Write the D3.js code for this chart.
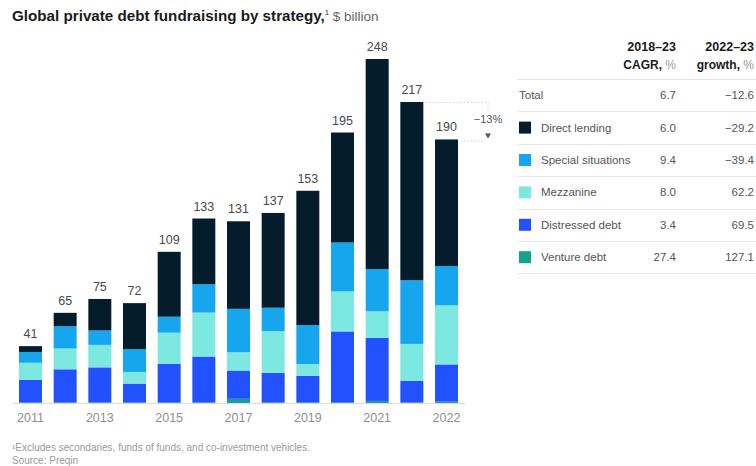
<!DOCTYPE html>
<html>
<head>
<meta charset="utf-8">
<script src="https://cdn.jsdelivr.net/npm/d3@7"></script>
<style>
  html, body { margin: 0; padding: 0; background: #fff; }
  svg { display: block; font-family: "Liberation Sans", Arial, sans-serif; }
</style>
</head>
<body>
<svg id="chart" width="756" height="466"></svg>
<script>
// Fundraising by year, $ billion, stacked bottom to top
const years = ["2011","2012","2013","2014","2015","2016","2017","2018","2019","2020","2021","2022","2023"];
const tickLabels = ["2011","","2013","","2015","","2017","","2019","","2021","","2022"];
const totals = [41, 65, 75, 72, 109, 133, 131, 137, 153, 195, 248, 217, 190];

const ventureDebt      = [0.3, 0.3, 0.4, 0.3, 0.5, 0.5, 3.0, 0.3, 0.6, 0.5, 1.5, 0.45, 1.0];
const distressedDebt   = [16.3, 24.0, 25.3, 13.7, 27.8, 33.0, 20.4, 21.5, 19.1, 51.1, 45.4, 15.65, 26.8];
const mezzanine        = [12.4, 15.0, 16.2, 8.4, 22.4, 31.7, 13.2, 30.0, 8.4, 28.8, 19.2, 26.5, 42.6];
const specialSituations= [7.8, 16.0, 10.4, 16.4, 11.5, 20.4, 31.3, 16.9, 28.1, 35.3, 30.5, 45.9, 28.4];
const directLending    = [4.2, 9.7, 22.7, 33.2, 46.8, 47.4, 63.1, 68.3, 96.8, 79.3, 151.4, 128.5, 91.2];

// Table rows
const strategies = ["Direct lending", "Special situations", "Mezzanine", "Distressed debt", "Venture debt"];
const cagr   = [6.0, 9.4, 8.0, 3.4, 27.4];
const growth = [-29.2, -39.4, 62.2, 69.5, 127.1];
const totalCagr = 6.7;
const totalGrowth = -12.6;

const colors = {
  "Venture debt": "#14a38b",
  "Distressed debt": "#2251ff",
  "Mezzanine": "#7de8e0",
  "Special situations": "#15a6ee",
  "Direct lending": "#051c2c"
};

const svg = d3.select("#chart");
const fmtNum = v => (v < 0 ? "\u2212" : "") + Math.abs(v).toFixed(1);

// Title
const title = svg.append("text").attr("x", 12).attr("y", 21);
title.append("tspan").attr("font-weight", "bold").attr("font-size", 15.2).attr("fill", "#1a1a1a")
  .text("Global private debt fundraising by strategy,");
title.append("tspan").attr("font-size", 7.5).attr("dy", -6).attr("fill", "#1a1a1a").text("1");
title.append("tspan").attr("dy", 6).attr("font-size", 13.5).attr("fill", "#666").text(" $ billion");

// Scales
const x = d3.scaleBand().domain(years).range([19, 458]).paddingInner(0.337).paddingOuter(0);
const y = d3.scaleLinear().domain([0, 248]).range([403, 59]);

const rows = years.map((yr, i) => ({
  year: yr,
  "Venture debt": ventureDebt[i],
  "Distressed debt": distressedDebt[i],
  "Mezzanine": mezzanine[i],
  "Special situations": specialSituations[i],
  "Direct lending": directLending[i]
}));
const keys = ["Venture debt", "Distressed debt", "Mezzanine", "Special situations", "Direct lending"];
const stacked = d3.stack().keys(keys)(rows);

svg.append("g").selectAll("g").data(stacked).join("g")
  .attr("fill", d => colors[d.key])
  .selectAll("rect").data(d => d).join("rect")
  .attr("x", d => x(d.data.year))
  .attr("width", x.bandwidth())
  .attr("y", d => y(d[1]))
  .attr("height", d => y(d[0]) - y(d[1]));

// Baseline
svg.append("line").attr("x1", 12).attr("x2", 465)
  .attr("y1", y(0) + 0.5).attr("y2", y(0) + 0.5)
  .attr("stroke", "#dcdcdc").attr("stroke-width", 1);

// Total labels
svg.append("g").selectAll("text").data(years).join("text")
  .attr("x", d => x(d) + x.bandwidth() / 2)
  .attr("y", (d, i) => y(totals[i]) - 8)
  .attr("text-anchor", "middle").attr("font-size", 12.5).attr("fill", "#4a4a4a")
  .text((d, i) => totals[i]);

// X axis
const xAxis = d3.axisBottom(x).tickSize(0).tickPadding(0)
  .tickFormat((d, i) => tickLabels[i]);
const gx = svg.append("g").attr("transform", `translate(0,${y(0) + 19})`).call(xAxis);
gx.select(".domain").remove();
gx.selectAll("text").attr("font-size", 12.5).attr("fill", "#8f8f8f")
  .attr("font-family", "'Liberation Sans', Arial, sans-serif").attr("dy", "0");

// Change annotation between last two years
const iPrev = years.length - 2, iLast = years.length - 1;
const ann = svg.append("g").attr("stroke", "#d6cccc").attr("stroke-width", 1)
  .attr("stroke-dasharray", "1.5,2").attr("fill", "none");
const axX = 488;
ann.append("path")
  .attr("d", `M${x(years[iPrev]) + x.bandwidth() + 2},${y(totals[iPrev]) + 0.5}H${axX}V${y(totals[iPrev]) + 9}`);
ann.append("path")
  .attr("d", `M${x(years[iLast]) + x.bandwidth() + 6},${y(totals[iLast]) + 1.5}H${axX - 4}`);
svg.append("path")
  .attr("d", `M${axX - 3},${y(totals[iLast]) - 6}L${axX + 3},${y(totals[iLast]) - 6}L${axX},${y(totals[iLast]) - 1}Z`)
  .attr("fill", "#555");
svg.append("text").attr("x", axX).attr("y", (y(totals[iPrev]) + y(totals[iLast])) / 2 + 2)
  .attr("text-anchor", "middle").attr("font-size", 11).attr("fill", "#555")
  .text("\u2212" + Math.abs(Math.round(totalGrowth)) + "%");

// Table
const tbl = svg.append("g");
const tLeft = 517, tRight = 756, col1 = 676, col2 = 754;
const hdr = [
  { x: col1, l1: "2018\u201323", l2: "CAGR, " },
  { x: col2, l1: "2022\u201323", l2: "growth, " }
];
hdr.forEach(h => {
  tbl.append("text").attr("x", h.x).attr("y", 51).attr("text-anchor", "end")
    .attr("font-size", 12.5).attr("font-weight", "bold").attr("fill", "#1a1a1a").text(h.l1);
  const t = tbl.append("text").attr("x", h.x).attr("y", 69).attr("text-anchor", "end")
    .attr("font-size", 12).attr("font-weight", "bold").attr("fill", "#1a1a1a");
  t.append("tspan").text(h.l2);
  t.append("tspan").attr("font-weight", "normal").attr("fill", "#999").text("%");
});

const tableRows = [{ name: "Total", c: totalCagr, g: totalGrowth, swatch: false }]
  .concat(strategies.map((s, i) => ({ name: s, c: cagr[i], g: growth[i], swatch: true })));
const rowTop = 79, rowH = 32.4;

tbl.append("line").attr("x1", tLeft).attr("x2", tRight)
  .attr("y1", rowTop + 0.5).attr("y2", rowTop + 0.5).attr("stroke", "#e3e3e3");

tableRows.forEach((r, i) => {
  const cy = rowTop + rowH * i + rowH / 2;
  const lineY = Math.round(rowTop + rowH * (i + 1)) + 0.5;
  tbl.append("line").attr("x1", tLeft).attr("x2", tRight)
    .attr("y1", lineY).attr("y2", lineY).attr("stroke", "#e8e8e8");
  if (r.swatch) {
    tbl.append("rect").attr("x", 519).attr("y", cy - 6).attr("width", 12).attr("height", 12)
      .attr("fill", colors[r.name]);
  }
  tbl.append("text").attr("x", r.swatch ? 541 : 519).attr("y", cy + 4)
    .attr("font-size", 11.5).attr("fill", "#555").text(r.name);
  tbl.append("text").attr("x", col1).attr("y", cy + 4).attr("text-anchor", "end")
    .attr("font-size", 11.5).attr("fill", "#555").text(fmtNum(r.c));
  tbl.append("text").attr("x", col2).attr("y", cy + 4).attr("text-anchor", "end")
    .attr("font-size", 11.5).attr("fill", "#555").text(fmtNum(r.g));
});

// Footnotes
svg.append("text").attr("x", 12).attr("y", 451).attr("font-size", 10).attr("fill", "#9a9a9a")
  .text("\u00B9Excludes secondaries, funds of funds, and co-investment vehicles.");
svg.append("text").attr("x", 12).attr("y", 464).attr("font-size", 10).attr("fill", "#9a9a9a")
  .text("Source: Preqin");
</script>
</body>
</html>
